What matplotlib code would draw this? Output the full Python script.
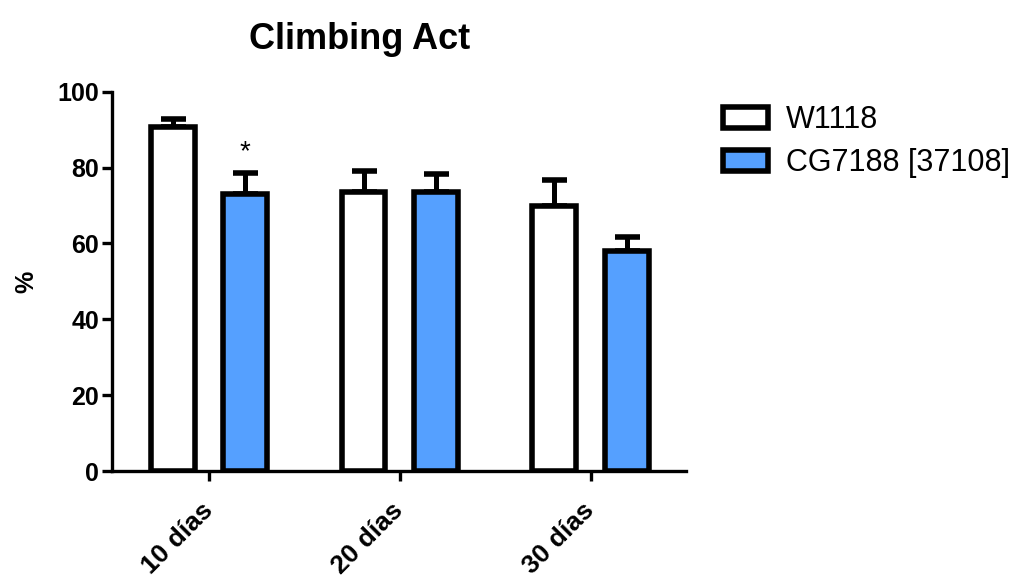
import matplotlib
matplotlib.use("Agg")
import matplotlib.pyplot as plt
import matplotlib.transforms as mtransforms
import numpy as np

plt.rcParams['font.family'] = ['Liberation Sans', 'DejaVu Sans']

# datos del ensayo de escalada
grupos = ['10 días', '20 días', '30 días']
w1118 = [90.7, 73.6, 70.0]
w1118_err = [2.1, 5.5, 6.8]
cg7188 = [73.1, 73.6, 57.9]
cg7188_err = [5.5, 4.6, 3.8]
etiquetas = ['W1118', 'CG7188 [37108]']
azul = '#55A0FF'

fig = plt.figure(figsize=(10.19, 5.81), dpi=100)
ax = fig.add_axes([0.1096, 0.1893, 0.5636, 0.6528])

x = np.arange(len(grupos))
ancho = 0.23
desp = 0.19

b1 = ax.bar(x - desp, w1118, ancho, color='white', edgecolor='black',
            linewidth=4, label=etiquetas[0], zorder=2)
b2 = ax.bar(x + desp, cg7188, ancho, color=azul, edgecolor='black',
            linewidth=4, label=etiquetas[1], zorder=2)

# solo barra de error superior
for xs, ys, es in [(x - desp, w1118, w1118_err), (x + desp, cg7188, cg7188_err)]:
    eb = ax.errorbar(xs, ys, yerr=[np.zeros(len(es)), es], fmt='none',
                     ecolor='black', elinewidth=3.6, capsize=9, capthick=4,
                     zorder=1)
    for c in eb[1]:
        c.set_solid_capstyle('round')

ax.text(x[0] + desp, 80.5, '*', ha='center', va='bottom', fontsize=20)

ax.set_xlim(-0.51, 2.5)
ax.set_ylim(0, 100)
ax.set_yticks([0, 20, 40, 60, 80, 100])
ax.set_xticks(x)
ax.set_xticklabels(grupos, rotation=45, ha='right', va='center',
                   rotation_mode='anchor', fontsize=19, fontweight='bold')
# desplazar las etiquetas un poco a la derecha
offset = mtransforms.ScaledTranslation(5 / 100, 0, fig.dpi_scale_trans)
for lab in ax.get_xticklabels():
    lab.set_transform(lab.get_transform() + offset)
for lab in ax.get_yticklabels():
    lab.set_fontsize(18)
    lab.set_fontweight('bold')

ax.spines['top'].set_visible(False)
ax.spines['right'].set_visible(False)
ax.spines['left'].set_linewidth(2.4)
ax.spines['bottom'].set_linewidth(2.4)
ax.tick_params(axis='y', length=7, width=2.4, pad=2)
ax.tick_params(axis='x', length=7, width=2.4, pad=19)

ax.set_ylabel('%', fontsize=18, fontweight='bold', labelpad=14)

fig.text(0.353, 0.932, 'Climbing Act', ha='center', va='center',
         fontsize=26, fontweight='bold')

leg = fig.legend(handles=[b1, b2], loc='upper left',
                 bbox_to_anchor=(0.698, 0.84), frameon=False, fontsize=22,
                 handlelength=1.45, handleheight=0.7, handletextpad=0.6,
                 labelspacing=0.42, borderaxespad=0)

fig.savefig('out.png', dpi=100)
